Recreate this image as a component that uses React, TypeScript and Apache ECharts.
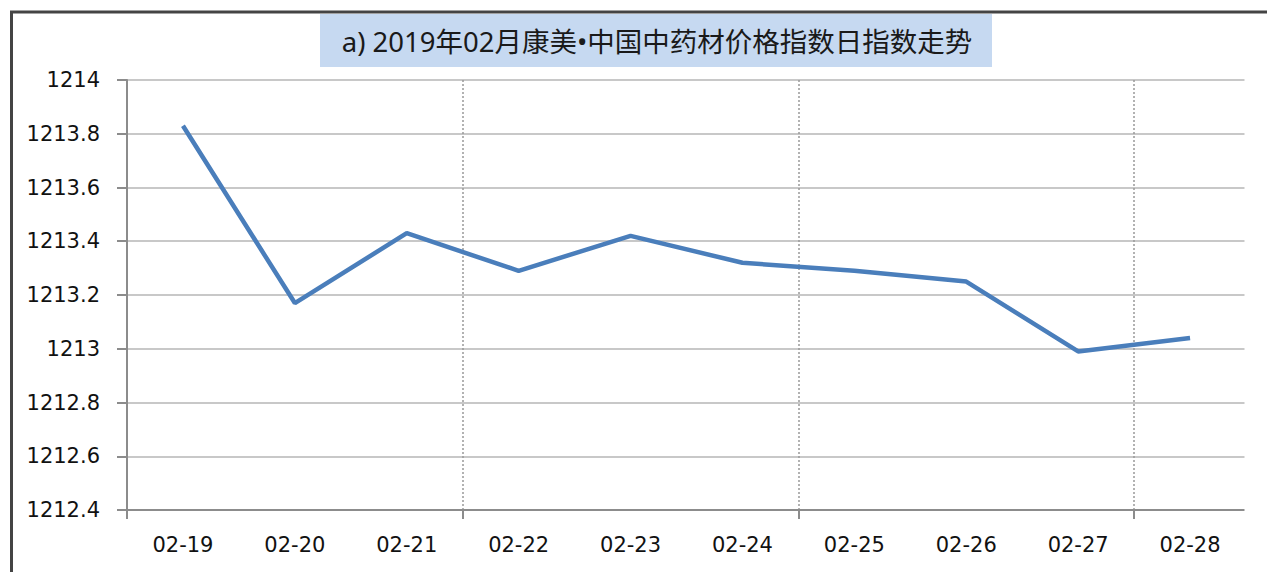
import React, { useEffect, useRef } from "react";
import * as echarts from "echarts";

const TITLE = "a) 2019年02月康美•中国中药材价格指数日指数走势";
const categories = ["02-19", "02-20", "02-21", "02-22", "02-23", "02-24", "02-25", "02-26", "02-27", "02-28"];
const values = [1213.83, 1213.17, 1213.43, 1213.29, 1213.42, 1213.32, 1213.29, 1213.25, 1212.99, 1213.04];
const yMin = 1212.4;
const yMax = 1214;
const yStep = 0.2;

export default function App() {
  const ref = useRef<HTMLDivElement>(null);
  useEffect(() => {
    if (!ref.current) return;
    const chart = echarts.init(ref.current, null, { renderer: "svg" });
    const labelFont = { fontFamily: "DejaVu Sans", fontSize: 21, color: "#111" };
    chart.setOption({
      animation: false,
      backgroundColor: "#ffffff",
      grid: { left: 127, right: 21, top: 80, bottom: 62, containLabel: false },
      graphic: [
        { type: "line", shape: { x1: 10, y1: 12, x2: 1267, y2: 12 }, style: { stroke: "#444", lineWidth: 3 } },
        { type: "line", shape: { x1: 11.5, y1: 11, x2: 11.5, y2: 572 }, style: { stroke: "#444", lineWidth: 3 } },
        { type: "rect", shape: { x: 320, y: 14, width: 672, height: 53 }, style: { fill: "#c6d9f1" } },
        {
          type: "text",
          x: 657,
          y: 41,
          style: {
            text: TITLE,
            fontFamily: "Noto Sans, Noto Sans CJK SC",
            fontSize: 27.5,
            fill: "#1a1a1a",
            align: "center",
            verticalAlign: "middle",
          },
        },
        { type: "rect", z: 100, shape: { x: 1244.5, y: 78, width: 10, height: 446 }, style: { fill: "#ffffff" } },
      ],
      xAxis: {
        type: "category",
        data: categories,
        boundaryGap: true,
        axisLine: { lineStyle: { color: "#8c8c8c", width: 2 } },
        axisTick: { show: true, interval: 2, length: 9, lineStyle: { color: "#8c8c8c", width: 2 } },
        axisLabel: { ...labelFont, margin: 24, interval: 0 },
        splitLine: { show: true, interval: 2, lineStyle: { color: "#999", width: 1.5, type: [2, 2] } },
      },
      yAxis: {
        type: "value",
        min: yMin,
        max: yMax,
        interval: yStep,
        axisLine: { show: true, lineStyle: { color: "#8c8c8c", width: 2 } },
        axisTick: { show: true, length: 10, lineStyle: { color: "#8c8c8c", width: 2 } },
        axisLabel: { ...labelFont, margin: 27, formatter: (v: number) => String(Math.round(v * 10) / 10) },
        splitLine: { show: true, lineStyle: { color: "#c8c8c8", width: 2 } },
      },
      series: [
        {
          type: "line",
          data: values,
          symbol: "none",
          lineStyle: { color: "#4a7ebb", width: 4.5 },
        },
      ],
    });
    return () => chart.dispose();
  }, []);
  return (
    <div
      ref={ref}
      style={{ position: "fixed", left: 0, top: 0, width: 1267, height: 572, background: "#fff" }}
    />
  );
}
